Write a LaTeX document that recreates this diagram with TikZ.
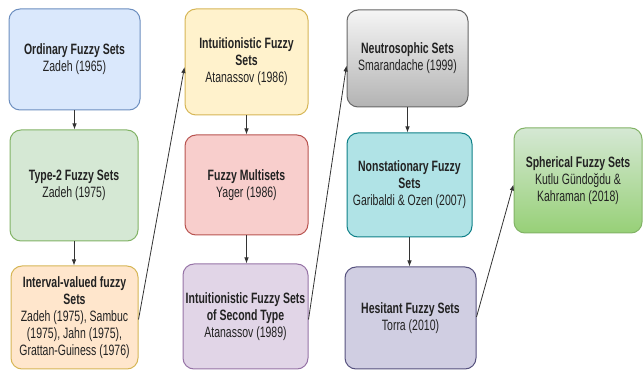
\documentclass[tikz,border=0pt]{standalone}
\usepackage{fontspec}
\setmainfont{Liberation Sans}[FakeStretch=0.70]
\usetikzlibrary{arrows.meta}
\definecolor{ordFill}{HTML}{DAE8FC}\definecolor{ordDraw}{HTML}{6C8EBF}
\definecolor{tFill}{HTML}{D5E8D4}\definecolor{tDraw}{HTML}{82B366}
\definecolor{ivFill}{HTML}{FFE6CC}\definecolor{ivDraw}{HTML}{D6B656}
\definecolor{ifFill}{HTML}{FFF2CC}\definecolor{ifDraw}{HTML}{D6B656}
\definecolor{fmFill}{HTML}{F8CECC}\definecolor{fmDraw}{HTML}{B85450}
\definecolor{itFill}{HTML}{E1D5E7}\definecolor{itDraw}{HTML}{9673A6}
\definecolor{neTop}{HTML}{F5F5F5}\definecolor{neBot}{HTML}{B3B3B3}\definecolor{neDraw}{HTML}{666666}
\definecolor{nsFill}{HTML}{B0E3E6}\definecolor{nsDraw}{HTML}{0E8088}
\definecolor{heFill}{HTML}{D0CEE2}\definecolor{heDraw}{HTML}{56517E}
\definecolor{spTop}{HTML}{D5E8D4}\definecolor{spBot}{HTML}{97D077}\definecolor{spDraw}{HTML}{82B366}
\definecolor{txt}{HTML}{222222}
\begin{document}
\begin{tikzpicture}[x=1pt,y=-1pt,
  box/.style={rounded corners=11pt, line width=1pt, align=center, inner sep=2pt,
    font=\fontsize{15}{17}\selectfont, text=txt},
  arr/.style={-{Latex[length=6pt,width=4.5pt]}, line width=0.8pt, draw=black!80}]
\useasboundingbox (0,0) rectangle (643,371);
% column 1
\node[box, fill=ordFill, draw=ordDraw, minimum width=131pt, minimum height=101pt] (b1) at (74.5,59.5)
  {\textbf{Ordinary Fuzzy Sets}\\Zadeh (1965)};
\node[box, fill=tFill, draw=tDraw, minimum width=128pt, minimum height=111pt] (b2) at (74,185.5)
  {\textbf{Type-2 Fuzzy Sets}\\Zadeh (1975)};
\node[box, fill=ivFill, draw=ivDraw, minimum width=127pt, minimum height=103pt] (b3) at (74.5,317.5)
  {\textbf{Interval-valued fuzzy}\\\textbf{Sets}\\Zadeh (1975), Sambuc\\(1975), Jahn (1975),\\Grattan-Guiness (1976)};
% column 2
\node[box, fill=ifFill, draw=ifDraw, minimum width=123pt, minimum height=106pt] (c1) at (246.5,62)
  {\textbf{Intuitionistic Fuzzy}\\\textbf{Sets}\\Atanassov (1986)};
\node[box, fill=fmFill, draw=fmDraw, minimum width=123pt, minimum height=100pt] (c2) at (246.5,185)
  {\textbf{Fuzzy Multisets}\\Yager (1986)};
\node[box, fill=itFill, draw=itDraw, minimum width=125pt, minimum height=105pt] (c3) at (245.5,316.5)
  {\textbf{Intuitionistic Fuzzy Sets}\\\textbf{of Second Type}\\Atanassov (1989)};
% column 3
\node[box, top color=neTop, bottom color=neBot, draw=neDraw, minimum width=121pt, minimum height=97pt] (d1) at (407.5,58.5)
  {\textbf{Neutrosophic Sets}\\Smarandache (1999)};
\node[box, fill=nsFill, draw=nsDraw, minimum width=125pt, minimum height=104pt] (d2) at (409.5,185)
  {\textbf{Nonstationary Fuzzy}\\\textbf{Sets}\\Garibaldi \& Ozen (2007)};
\node[box, fill=heFill, draw=heDraw, minimum width=131pt, minimum height=102pt] (d3) at (410.5,318)
  {\textbf{Hesitant Fuzzy Sets}\\Torra (2010)};
% column 4
\node[box, top color=spTop, bottom color=spBot, draw=spDraw, minimum width=128pt, minimum height=105pt] (e1) at (578,180.5)
  {\textbf{Spherical Fuzzy Sets}\\Kutlu Gündoğdu \&\\Kahraman (2018)};
% vertical arrows
\draw[arr] (b1.south) -- (b1.south |- b2.north);
\draw[arr] (b2.south) -- (b2.south |- b3.north);
\draw[arr] (c1.south) -- (c1.south |- c2.north);
\draw[arr] (c2.south) -- (c2.south |- c3.north);
\draw[arr] (d1.south) -- (d1.south |- d2.north);
\draw[arr] (d2.south) -- (d2.south |- d3.north);
% diagonal arrows
\draw[arr] ([yshift=-2pt]b3.east) -- ([yshift=-5pt]c1.west);
\draw[arr] ([yshift=-3pt]c3.east) -- ([yshift=-7pt]d1.west);
\draw[arr] ([yshift=1pt]d3.east) -- ([yshift=-4pt]e1.west);
\end{tikzpicture}
\end{document}
